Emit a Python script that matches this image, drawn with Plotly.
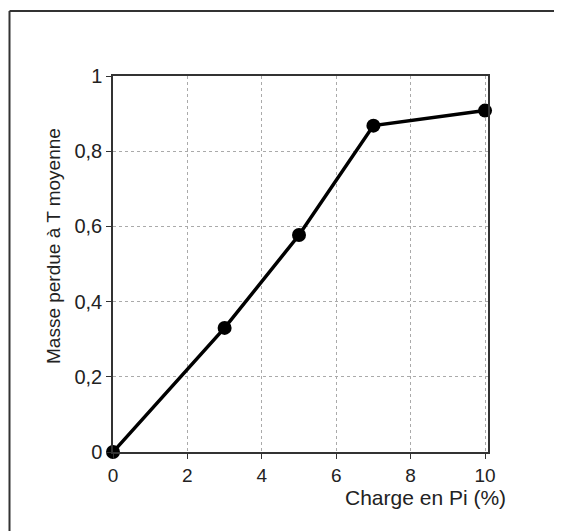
import plotly.graph_objects as go

charge = [0, 3, 5, 7, 10]
masse = [0, 0.33, 0.577, 0.868, 0.908]

x_tickvals = [0, 2, 4, 6, 8, 10]
x_ticktext = ["0", "2", "4", "6", "8", "10"]
y_tickvals = [0, 0.2, 0.4, 0.6, 0.8, 1]
y_ticktext = ["0", "0,2", "0,4", "0,6", "0,8", "1"]

x_title = "Charge en Pi (%)"
y_title = "Masse perdue à T moyenne"

FONT = "Liberation Sans, Arial, sans-serif"

fig = go.Figure()
fig.add_trace(go.Scatter(
    x=charge, y=masse, mode="lines+markers",
    line=dict(color="black", width=3.5),
    marker=dict(color="black", size=14),
    cliponaxis=False, showlegend=False,
))

OFF = 8  # page body margin
W, H = 562 - OFF, 531 - OFF
L, R, T, B = 113 - OFF, 74, 76 - OFF, 79
pw, ph = W - L - R, H - T - B

def px(xs):
    return (xs - OFF - L) / pw

def py(ys):
    return (H - B - (ys - OFF)) / ph

fig.update_layout(
    width=W, height=H,
    margin=dict(l=L, r=R, t=T, b=B, pad=0),
    paper_bgcolor="white", plot_bgcolor="white",
    font=dict(family=FONT, color="#222", size=17),
    xaxis=dict(
        range=[0, 10.08], tickvals=x_tickvals, ticktext=x_ticktext,
        showgrid=True, gridcolor="#aaa", griddash="dot", gridwidth=1,
        showline=True, linecolor="#333", linewidth=1.5, mirror=True,
        ticks="outside", ticklen=5, tickcolor="#333",
        zeroline=False, tickfont=dict(size=19),
    ),
    yaxis=dict(
        range=[0, 1], tickvals=y_tickvals, ticktext=y_ticktext,
        showgrid=True, gridcolor="#aaa", griddash="dot", gridwidth=1,
        showline=True, linecolor="#333", linewidth=1.5, mirror=True,
        ticks="outside", ticklen=5, tickcolor="#333",
        zeroline=False, tickfont=dict(size=20),
    ),
    annotations=[
        dict(text=x_title, xref="paper", yref="paper", x=px(508), y=py(497),
             xanchor="right", yanchor="middle", showarrow=False,
             font=dict(size=21, family=FONT, color="#222")),
        dict(text=y_title, xref="paper", yref="paper", x=px(53), y=py(246),
             xanchor="center", yanchor="middle", textangle=-90, showarrow=False,
             font=dict(size=19, family=FONT, color="#222")),
    ],
    shapes=[
        dict(type="line", xref="paper", yref="paper", x0=px(9.5), x1=px(600),
             y0=py(11), y1=py(11), line=dict(color="#333", width=2)),
        dict(type="line", xref="paper", yref="paper", x0=px(9.5), x1=px(9.5),
             y0=py(11), y1=py(600), line=dict(color="#333", width=2)),
    ],
)

fig.write_html("out.html")
